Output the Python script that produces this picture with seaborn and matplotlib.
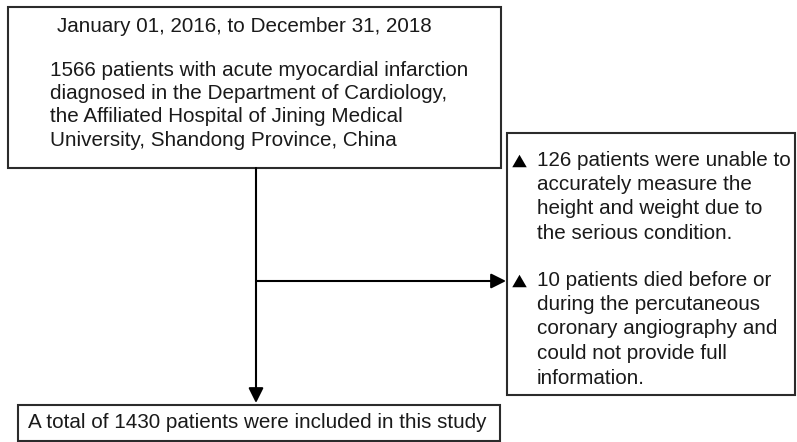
import matplotlib
matplotlib.use("Agg")
import matplotlib.pyplot as plt
import seaborn as sns
from matplotlib.patches import Rectangle, Polygon

sns.set_theme(style="white")
plt.rcParams['font.family'] = ['Liberation Sans', 'DejaVu Sans']

# ---- content ----
period_label = "January 01, 2016, to December 31, 2018"
source_lines = [
    "1566 patients with acute myocardial infarction",
    "diagnosed in the Department of Cardiology,",
    "the Affiliated Hospital of Jining Medical",
    "University, Shandong Province, China",
]
exclusion_groups = [
    ["126 patients were unable to",
     "accurately measure the",
     "height and weight due to",
     "the serious condition."],
    ["10 patients died before or",
     "during the percutaneous",
     "coronary angiography and",
     "could not provide full",
     "information."],
]
final_label = "A total of 1430 patients were included in this study"

W, H = 797, 442
fig = plt.figure(figsize=(W / 100, H / 100), dpi=100)
ax = fig.add_axes([0, 0, 1, 1])
ax.set_xlim(0, W)
ax.set_ylim(H, 0)
ax.axis("off")

FS = 14.9
TC = "#1a1a1a"
EC = "#2b2b2b"
LW = 1.5

def box(x0, y0, x1, y1):
    ax.add_patch(Rectangle((x0, y0), x1 - x0, y1 - y0, fill=False,
                           edgecolor=EC, linewidth=LW))

def bullet(xc, yc, w=14.5, h=12.5):
    ax.add_patch(Polygon([(xc - w / 2, yc + h / 2), (xc + w / 2, yc + h / 2),
                          (xc, yc - h / 2)], closed=True, facecolor="black",
                         edgecolor="none"))

# boxes
box(8, 7, 501, 168)
box(507, 133, 795, 395)
box(18, 405, 500, 441)

# top box text
ax.text(57, 27, period_label, fontsize=FS, color=TC, va="center", ha="left")
for i, line in enumerate(source_lines):
    ax.text(50, 70 + i * 23.5, line, fontsize=FS, color=TC, va="center", ha="left")

# right box text
starts = [160, 280]
for g, lines in enumerate(exclusion_groups):
    y0 = starts[g]
    bullet(519.5, y0 + 1)
    for i, line in enumerate(lines):
        ax.text(537, y0 + i * 24.5, line, fontsize=FS, color=TC, va="center", ha="left")

# bottom text
ax.text(28, 422, final_label, fontsize=FS, color=TC, va="center", ha="left")

# connectors
arrow_style = "-|>,head_length=0.6,head_width=0.3"
ax.annotate("", xy=(256, 403), xytext=(256, 168),
            arrowprops=dict(arrowstyle=arrow_style, color="black", lw=LW,
                            mutation_scale=15, shrinkA=0, shrinkB=0))
ax.annotate("", xy=(506, 281), xytext=(256, 281),
            arrowprops=dict(arrowstyle=arrow_style, color="black", lw=LW,
                            mutation_scale=15, shrinkA=0, shrinkB=0))

fig.savefig("out.png", dpi=100, facecolor="white")
